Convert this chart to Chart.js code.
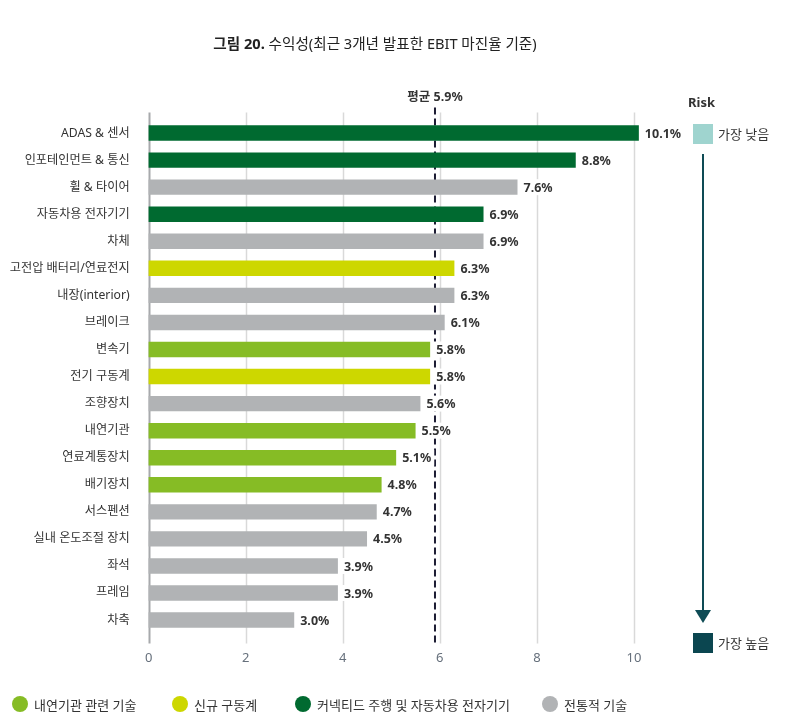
<!DOCTYPE html>
<html><head><meta charset="utf-8">
<script src="https://cdn.jsdelivr.net/npm/chart.js@4/dist/chart.umd.min.js"></script>
<style>
html,body{margin:0;padding:0;background:#fff;}
#wrap{position:relative;width:801px;height:724px;font-family:"Noto Sans","Noto Sans CJK KR",sans-serif;color:#333;overflow:hidden;}
#c{position:absolute;left:0;top:0;}
#title{position:absolute;left:0;top:32px;width:750px;text-align:center;font-size:14.6px;color:#222;}
#title b{font-weight:700;}
.risk{position:absolute;font-size:13px;color:#333;}
#legend{position:absolute;top:693px;left:0;width:801px;height:22px;font-size:13px;color:#333;}
.li{position:absolute;top:0;display:flex;align-items:center;height:22px;}
.dot{width:16px;height:16px;border-radius:50%;margin-right:6px;}
</style></head>
<body><div id="wrap">
<canvas id="c" width="801" height="724"></canvas>
<div id="title"><b>그림 20.</b> 수익성(최근 3개년 발표한 EBIT 마진율 기준)</div>
<div class="risk" style="left:688px;top:93px;font-weight:700;">Risk</div>
<div style="position:absolute;left:693px;top:124px;width:20px;height:20px;background:#9fd4cf;"></div>
<div class="risk" style="left:718px;top:124px;">가장 낮음</div>
<div style="position:absolute;left:702px;top:154px;width:2px;height:458px;background:#0e4b55;"></div>
<div style="position:absolute;left:695px;top:610px;width:0;height:0;border-left:8px solid transparent;border-right:8px solid transparent;border-top:13px solid #0e4b55;"></div>
<div style="position:absolute;left:693px;top:633px;width:20px;height:20px;background:#0b4650;"></div>
<div class="risk" style="left:718px;top:633px;">가장 높음</div>
<div id="legend"></div>
</div>
<script>
const categories = ["ADAS & 센서","인포테인먼트 & 통신","휠 & 타이어","자동차용 전자기기","차체","고전압 배터리/연료전지","내장(interior)","브레이크","변속기","전기 구동계","조향장치","내연기관","연료계통장치","배기장치","서스펜션","실내 온도조절 장치","좌석","프레임","차축"];
const values = [10.1,8.8,7.6,6.9,6.9,6.3,6.3,6.1,5.8,5.8,5.6,5.5,5.1,4.8,4.7,4.5,3.9,3.9,3.0];
const groups = [2,2,3,2,3,1,3,3,0,1,3,0,0,0,3,3,3,3,3];
const groupLabels = ["내연기관 관련 기술","신규 구동계","커넥티드 주행 및 자동차용 전자기기","전통적 기술"];
const groupColors = ["#86bc25","#cdd700","#006a30","#b1b3b5"];
const average = 5.9;
const averageLabel = "평균 5.9%";
const xTicks = [0,2,4,6,8,10];

const legendX = [12,172,295,542];
const lg = document.getElementById('legend');
groupLabels.forEach((t,i)=>{
  const d=document.createElement('div');d.className='li';d.style.left=legendX[i]+'px';
  d.innerHTML='<span class="dot" style="background:'+groupColors[i]+'"></span><span>'+t+'</span>';
  lg.appendChild(d);
});

const FONT = '"Noto Sans","Noto Sans CJK KR",sans-serif';
const deco = {
  id:'deco',
  beforeDatasetsDraw(chart){
    const {ctx, chartArea:a, scales:{x}} = chart;
    ctx.save();
    xTicks.forEach(v=>{
      const px = Math.round(x.getPixelForValue(v))+0.5;
      ctx.beginPath();
      ctx.strokeStyle = v===0 ? '#a7a9ac' : '#d9d9d9';
      ctx.lineWidth = v===0 ? 2 : 1.5;
      ctx.moveTo(px, a.top-7); ctx.lineTo(px, a.bottom+10); ctx.stroke();
    });
    const ax = x.getPixelForValue(average);
    ctx.beginPath();
    ctx.setLineDash([7,4]);
    ctx.strokeStyle='#1c1c33'; ctx.lineWidth=2;
    ctx.moveTo(ax, a.top-12); ctx.lineTo(ax, a.bottom+10); ctx.stroke();
    ctx.setLineDash([]);
    ctx.fillStyle = '#333';
    ctx.textAlign='center';
    ctx.textBaseline='middle';
    ctx.font = 'bold 12.5px '+FONT;
    ctx.fillText(averageLabel, ax, 97);
    ctx.restore();
  },
  afterDatasetsDraw(chart){
    const {ctx} = chart;
    const meta = chart.getDatasetMeta(0);
    ctx.save();
    ctx.font = 'bold 12.5px '+FONT;
    ctx.textBaseline = 'middle';
    ctx.textAlign = 'left';
    meta.data.forEach((b,i)=>{
      const t = values[i].toFixed(1)+'%';
      const w = ctx.measureText(t).width;
      ctx.fillStyle = '#fff';
      ctx.fillRect(b.x+3, b.y-8, w+6, 16);
      ctx.fillStyle = '#333';
      ctx.fillText(t, b.x+6, b.y+1);
    });
    ctx.restore();
  }
};

new Chart(document.getElementById('c'), {
  type:'bar',
  data:{labels:categories, datasets:[{data:values, backgroundColor:groups.map(g=>groupColors[g]), barPercentage:0.57, categoryPercentage:1, clip:false}]},
  options:{
    indexAxis:'y', responsive:false, animation:false, devicePixelRatio:1,
    layout:{padding:{left:0,top:119.5,right:167,bottom:60.4}},
    plugins:{legend:{display:false}, tooltip:{enabled:false}},
    scales:{
      x:{min:0,max:10,grid:{display:false},border:{display:false},
         ticks:{stepSize:2,color:'#66707c',font:{family:FONT,size:13},padding:9},
         afterFit(s){s.height=30;}},
      y:{grid:{display:false},border:{display:false},
         ticks:{color:'#333',font:{family:FONT,size:12.2},padding:11,autoSkip:false},
         afterFit(s){s.width=148.6;}}
    }
  },
  plugins:[deco]
});
</script>
</body></html>
